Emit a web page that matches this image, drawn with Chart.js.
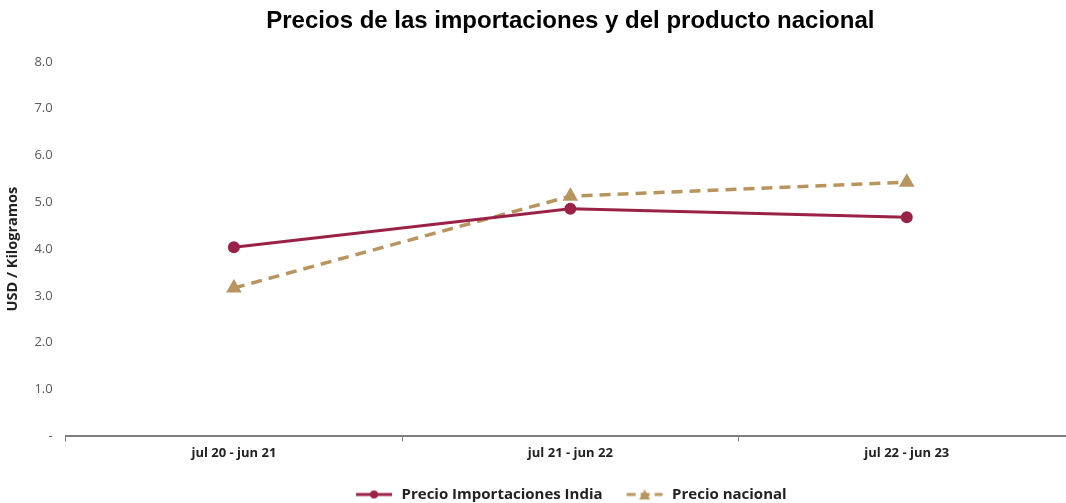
<!DOCTYPE html>
<html>
<head>
<meta charset="utf-8">
<script src="https://cdn.jsdelivr.net/npm/chart.js@4"></script>
<style>
  body { margin: 0; background: #fff; overflow: hidden; }
  #wrap { width: 1084px; height: 503px; }
</style>
</head>
<body>
<div id="wrap"><canvas id="lineChart"></canvas></div>
<script>
const periods = ['jul 20 - jun 21', 'jul 21 - jun 22', 'jul 22 - jun 23'];
const importPrices = [4.04, 4.86, 4.68];
const nationalPrices = [3.17, 5.13, 5.43];

const red = '#9B2247';
const gold = '#B8955F';

// small legend icons: line + marker
function legendIcon(color, shape, dashed) {
    const c = document.createElement('canvas');
    c.width = 38; c.height = 12;
    const g = c.getContext('2d');
    g.strokeStyle = color; g.fillStyle = color; g.lineWidth = 3;
    if (dashed) g.setLineDash([9, 5]);
    g.beginPath(); g.moveTo(1, 6); g.lineTo(37, 6); g.stroke();
    g.setLineDash([]);
    g.beginPath();
    if (shape === 'circle') {
        g.arc(19, 6, 4, 0, Math.PI * 2);
    } else {
        g.moveTo(19, 1); g.lineTo(24.5, 11); g.lineTo(13.5, 11); g.closePath();
    }
    g.fill();
    return c;
}

const ctx = document.getElementById('lineChart').getContext('2d');
const lineChart = new Chart(ctx, {
    type: 'line',
    data: {
        labels: periods,
        datasets: [{
            label: 'Precio Importaciones India',
            data: importPrices,
            borderColor: red,
            backgroundColor: red,
            borderWidth: 3,
            pointStyle: 'circle',
            pointRadius: 4.5,
            pointHoverRadius: 4.5,
            fill: false,
            tension: 0
        }, {
            label: 'Precio nacional',
            data: nationalPrices,
            borderColor: gold,
            backgroundColor: gold,
            borderWidth: 3.5,
            borderDash: [11, 7],
            pointStyle: 'triangle',
            pointRadius: 5.5,
            pointHoverRadius: 5.5,
            fill: false,
            tension: 0
        }]
    },
    options: {
        responsive: true,
        maintainAspectRatio: false,
        animation: false,
        layout: { padding: { left: 4, right: 0, top: 0, bottom: -9 } },
        plugins: {
            title: {
                display: true,
                text: 'Precios de las importaciones y del producto nacional',
                fullSize: false,
                color: '#000',
                font: { family: 'Liberation Sans', size: 24, weight: 'bold' },
                padding: { top: 7, bottom: 26 }
            },
            legend: {
                position: 'bottom',
                fullSize: false,
                labels: {
                    usePointStyle: true,
                    pointStyleWidth: 40,
                    boxHeight: 12,
                    generateLabels: (chart) => [
                        { text: 'Precio Importaciones India', pointStyle: legendIcon(red, 'circle', false), datasetIndex: 0, fontColor: '#222', lineWidth: 0, strokeStyle: 'transparent', fillStyle: 'transparent' },
                        { text: 'Precio nacional', pointStyle: legendIcon(gold, 'triangle', true), datasetIndex: 1, fontColor: '#222', lineWidth: 0, strokeStyle: 'transparent', fillStyle: 'transparent' }
                    ],
                    color: '#222',
                    font: { family: 'Open Sans', size: 15, weight: 'bold' },
                    padding: 22
                }
            },
            tooltip: { enabled: false }
        },
        scales: {
            x: {
                offset: true,
                grid: {
                    display: true,
                    offset: true,
                    drawOnChartArea: false,
                    drawTicks: true,
                    tickLength: 5,
                    color: '#7f7f7f'
                },
                border: { display: true, color: '#7f7f7f', width: 2 },
                ticks: {
                    color: '#222',
                    font: { family: 'Open Sans', size: 13, weight: 'bold' },
                    padding: 4
                }
            },
            y: {
                min: 0,
                max: 8,
                grid: { display: false, drawTicks: false },
                border: { display: false },
                ticks: {
                    stepSize: 1,
                    color: '#595959',
                    padding: 13,
                    font: { family: 'Open Sans', size: 13 },
                    callback: (v) => v === 0 ? '-' : v.toFixed(1)
                },
                title: {
                    display: true,
                    text: 'USD / Kilogramos',
                    color: '#222',
                    font: { family: 'Open Sans', size: 14.5, weight: 'bold' },
                    padding: { top: 0, bottom: 0 }
                }
            }
        }
    }
});
</script>
</body>
</html>
